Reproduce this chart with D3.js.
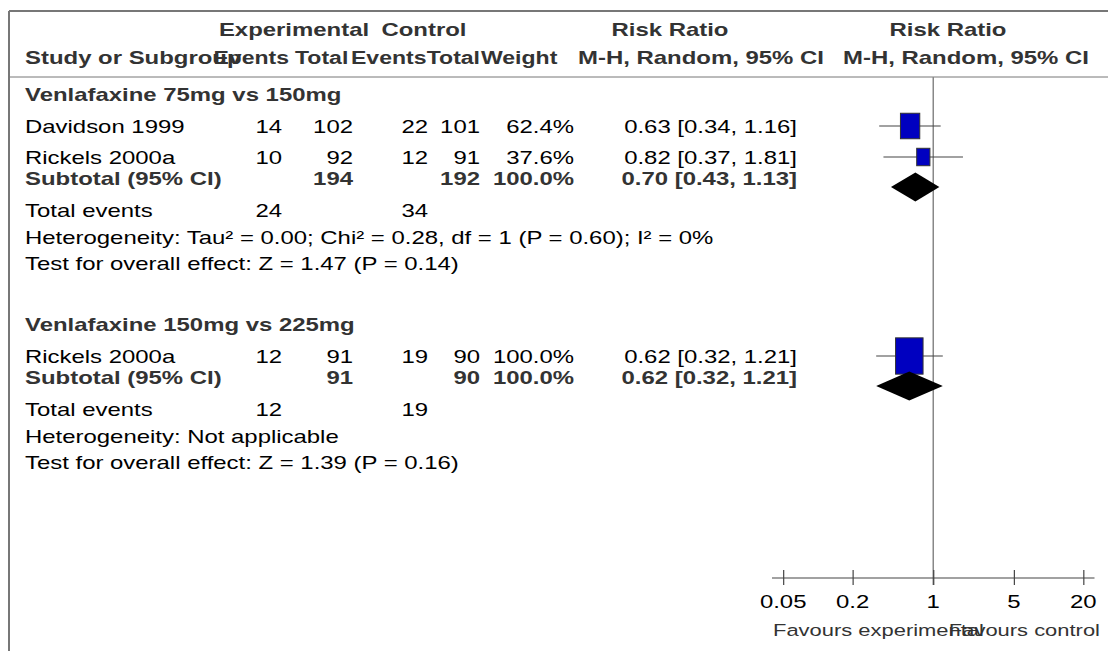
<!DOCTYPE html>
<html><head><meta charset="utf-8">
<script src="https://cdn.jsdelivr.net/npm/d3@7"></script>
<style>
body{margin:0;background:#fff}
svg{display:block}
text{font-family:"Liberation Sans",Arial,Helvetica,sans-serif}
</style>
</head><body>
<svg id="chart" width="1108" height="651"></svg>
<script>
// ---------- DATA ----------
const groupTitles = ["Venlafaxine 75mg vs 150mg", "Venlafaxine 150mg vs 225mg"];
const studyNames = ["Davidson 1999", "Rickels 2000a", "Rickels 2000a"];
const studyGroup = [0, 0, 1];
const expEvents = [14, 10, 12];
const expTotal = [102, 92, 91];
const ctlEvents = [22, 12, 19];
const ctlTotal = [101, 91, 90];
const weights = [62.4, 37.6, 100.0];
const rr = [0.63, 0.82, 0.62];
const rrLow = [0.34, 0.37, 0.32];
const rrHigh = [1.16, 1.81, 1.21];
const subExpTotal = [194, 91];
const subCtlTotal = [192, 90];
const subWeight = [100.0, 100.0];
const subRR = [0.70, 0.62];
const subLow = [0.43, 0.32];
const subHigh = [1.13, 1.21];
const totExpEvents = [24, 12];
const totCtlEvents = [34, 19];
const heterogeneity = ["Heterogeneity: Tau\u00b2 = 0.00; Chi\u00b2 = 0.28, df = 1 (P = 0.60); I\u00b2 = 0%", "Heterogeneity: Not applicable"];
const overallTest = ["Test for overall effect: Z = 1.47 (P = 0.14)", "Test for overall effect: Z = 1.39 (P = 0.16)"];
const tickValues = [0.05, 0.2, 1, 5, 20];
const tickLabels = ["0.05", "0.2", "1", "5", "20"];
const axisLabels = ["Favours experimental", "Favours control"];

// ---------- LAYOUT ----------
const svg = d3.select("#chart");
const SX = 1.33;            // horizontal text stretch of the reference
const FS = 18;              // font size
const col = {study: 25, expEv: 282, expTot: 353, ctlEv: 428, ctlTot: 480, weight: 574, ci: 797};
const x = d3.scaleLog().domain([0.04, 25]).range([772, 1094.5]);
const sizeScale = d3.scalePow().exponent(0.75).domain([0, 100]).range([0, 27.5]);
const fmt2 = d3.format(".2f"), fmt1 = d3.format(".1f");
const ciText = (a, b, c) => `${fmt2(a)} [${fmt2(b)}, ${fmt2(c)}]`;

function txt(g, xp, yp, s, o = {}) {
  return g.append("text")
    .attr("transform", `translate(${xp},${yp}) scale(${o.sx || SX},1)`)
    .attr("dy", "0.36em")
    .attr("text-anchor", o.anchor || "start")
    .style("font-size", (o.size || FS) + "px")
    .style("font-weight", o.bold ? "bold" : "normal")
    .style("fill", o.fill || (o.bold ? "#333" : "#000"))
    .text(s);
}

// frame
svg.append("line").attr("x1", 9).attr("x2", 1108).attr("y1", 11).attr("y2", 11).attr("stroke", "#777").attr("stroke-width", 2);
svg.append("line").attr("x1", 9).attr("x2", 9).attr("y1", 11).attr("y2", 651).attr("stroke", "#777").attr("stroke-width", 2);
const headerLineY = 77;
svg.append("line").attr("x1", 9).attr("x2", 1108).attr("y1", headerLineY).attr("y2", headerLineY).attr("stroke", "#777").attr("stroke-width", 1);

// headers
const hg = svg.append("g");
const HSX = 1.28;
txt(hg, 294, 30, "Experimental", {bold: true, anchor: "middle"});
txt(hg, 424, 30, "Control", {bold: true, anchor: "middle"});
txt(hg, 670, 30, "Risk Ratio", {bold: true, anchor: "middle"});
txt(hg, 948, 30, "Risk Ratio", {bold: true, anchor: "middle"});
txt(hg, col.study, 58, "Study or Subgroup", {bold: true});
txt(hg, 289, 58, "Events", {bold: true, anchor: "end", sx: HSX});
txt(hg, 295, 58, "Total", {bold: true, sx: HSX});
txt(hg, 351, 58, "Events", {bold: true, sx: HSX});
txt(hg, 480, 58, "Total", {bold: true, anchor: "end", sx: HSX});
txt(hg, 481, 58, "Weight", {bold: true, sx: HSX});
txt(hg, 701, 58, "M-H, Random, 95% CI", {bold: true, anchor: "middle"});
txt(hg, 966, 58, "M-H, Random, 95% CI", {bold: true, anchor: "middle"});

// axis position
const axisY = 578;
// reference vertical line at RR = 1
svg.append("line").attr("x1", x(1)).attr("x2", x(1)).attr("y1", headerLineY).attr("y2", axisY + 7).attr("stroke", "#888").attr("stroke-width", 1.5);

// rows
const body = svg.append("g");
let y = 95;
groupTitles.forEach((title, gi) => {
  txt(body, col.study, y, title, {bold: true});
  y += 32;
  const idx = studyGroup.map((g, i) => g === gi ? i : -1).filter(i => i >= 0);
  idx.forEach((i, k) => {
    if (k > 0) y += 31;
    txt(body, col.study, y, studyNames[i]);
    txt(body, col.expEv, y, expEvents[i], {anchor: "end"});
    txt(body, col.expTot, y, expTotal[i], {anchor: "end"});
    txt(body, col.ctlEv, y, ctlEvents[i], {anchor: "end"});
    txt(body, col.ctlTot, y, ctlTotal[i], {anchor: "end"});
    txt(body, col.weight, y, fmt1(weights[i]) + "%", {anchor: "end"});
    txt(body, col.ci, y, ciText(rr[i], rrLow[i], rrHigh[i]), {anchor: "end"});
    const ym = y - 1;
    body.append("line").attr("x1", x(rrLow[i])).attr("x2", x(rrHigh[i])).attr("y1", ym).attr("y2", ym)
      .attr("stroke", "#444").attr("stroke-width", 1.2);
    const w = sizeScale(weights[i]), h = w * 1.32;
    body.append("rect").attr("x", x(rr[i]) - w / 2).attr("y", ym - h / 2).attr("width", w).attr("height", h)
      .attr("fill", "#0000c0").attr("stroke", "#333").attr("stroke-width", 1);
  });
  y += 21;
  txt(body, col.study, y, "Subtotal (95% CI)", {bold: true});
  txt(body, col.expTot, y, subExpTotal[gi], {bold: true, anchor: "end"});
  txt(body, col.ctlTot, y, subCtlTotal[gi], {bold: true, anchor: "end"});
  txt(body, col.weight, y, fmt1(subWeight[gi]) + "%", {bold: true, anchor: "end"});
  txt(body, col.ci, y, ciText(subRR[gi], subLow[gi], subHigh[gi]), {bold: true, anchor: "end"});
  const yd = y + 8, dh = 14.5;
  body.append("polygon")
    .attr("points", [[x(subLow[gi]), yd], [x(subRR[gi]), yd - dh], [x(subHigh[gi]), yd], [x(subRR[gi]), yd + dh]].map(p => p.join(",")).join(" "))
    .attr("fill", "#000");
  y += 32;
  txt(body, col.study, y, "Total events");
  txt(body, col.expEv, y, totExpEvents[gi], {anchor: "end"});
  txt(body, col.ctlEv, y, totCtlEvents[gi], {anchor: "end"});
  y += 27;
  txt(body, col.study, y, heterogeneity[gi]);
  y += 26;
  txt(body, col.study, y, overallTest[gi]);
  y += 61;
});

// axis
const axisG = svg.append("g").attr("transform", `translate(0,${axisY})`);
axisG.append("line").attr("x1", x.range()[0]).attr("x2", x.range()[1]).attr("y1", 0).attr("y2", 0).attr("stroke", "#444").attr("stroke-width", 1.2);
const ax = d3.axisBottom(x).tickValues(tickValues).tickFormat((d, i) => tickLabels[i]).tickSize(0).tickPadding(0);
const axG = axisG.append("g").call(ax);
axG.select(".domain").remove();
axG.selectAll(".tick line").attr("y1", -8).attr("y2", 7).attr("stroke", "#444").attr("stroke-width", 1.2);
axG.selectAll(".tick text").remove();
tickValues.forEach((v, i) => txt(axisG, x(v), 24, tickLabels[i], {anchor: "middle"}));
txt(axisG, 773, 52, axisLabels[0], {size: 16.5, fill: "#333"});
txt(axisG, 1100, 52, axisLabels[1], {size: 16.5, fill: "#333", anchor: "end"});
</script>
</body></html>
